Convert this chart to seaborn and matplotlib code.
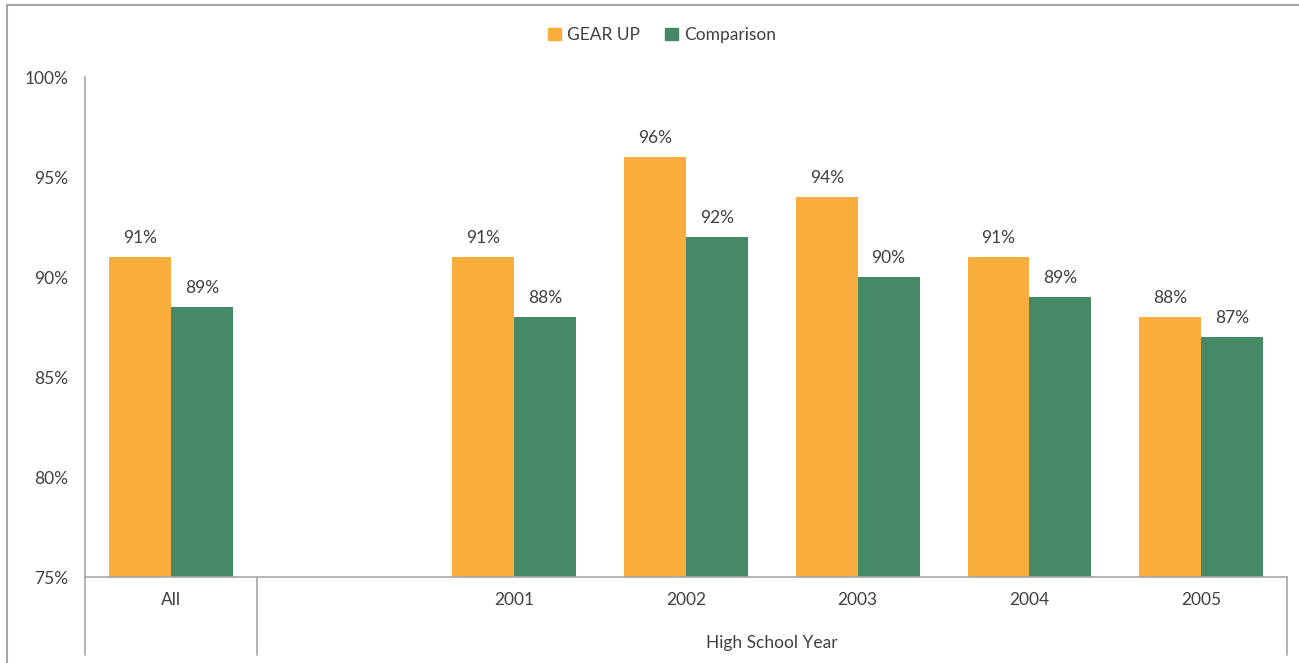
import matplotlib.pyplot as plt
import matplotlib.lines as mlines
import matplotlib.patches as mpatches
import numpy as np
import pandas as pd
import seaborn as sns

# chart data
categories = ["All", "", "2001", "2002", "2003", "2004", "2005"]
groups = ["All", "2001", "2002", "2003", "2004", "2005"]
gear_up = [91, 91, 96, 94, 91, 88]
comparison = [88.5, 88, 92, 90, 89, 87]
series = ["GEAR UP", "Comparison"]
colors = ["#F9AD3D", "#468966"]
y_ticks = [75, 80, 85, 90, 95, 100]

df = pd.DataFrame({
    "Year": groups * 2,
    "Series": [series[0]] * len(groups) + [series[1]] * len(groups),
    "Value": gear_up + comparison,
})

sns.set_style("white")
plt.rcParams["font.family"] = ["Lato", "DejaVu Sans"]
txt = "#404040"
line_col = "#A6A6A6"
fs = 12.5

W, H = 1299, 663
fig = plt.figure(figsize=(W / 100, H / 100), dpi=100)
ax = fig.add_axes([85 / W, (H - 577) / H, (1287 - 85) / W, 500 / H])

sns.barplot(data=df, x="Year", y="Value", hue="Series", order=categories,
            hue_order=series, palette=colors, saturation=1, width=0.72,
            linewidth=0, ax=ax, legend=False)

for c in ax.containers:
    labels = [f"{int(np.floor(v + 0.5))}%" for v in c.datavalues]
    ax.bar_label(c, labels=labels, padding=8, fontsize=fs, color=txt)

ax.set_xlim(-0.5, 6.5)
ax.set_ylim(75, 100)
ax.set_yticks(y_ticks)
ax.set_yticklabels([f"{t}%" for t in y_ticks], fontsize=fs, color=txt)
ax.set_xticks(range(len(categories)))
ax.set_xticklabels(categories, fontsize=fs, color=txt)
ax.tick_params(axis="both", length=0, pad=12)
ax.tick_params(axis="x", pad=11)
ax.set_xlabel("")
ax.set_ylabel("")

for s in ["top", "right"]:
    ax.spines[s].set_visible(False)
for s in ["left", "bottom"]:
    ax.spines[s].set_color(line_col)
    ax.spines[s].set_linewidth(1.2)

# multi-level category axis lines
bottom_y = (577 - 655) / 500
trans = ax.get_xaxis_transform()
for xv in [-0.5, 0.5, 6.5]:
    ax.plot([xv, xv], [0, bottom_y], transform=trans, color=line_col,
            lw=1.2, clip_on=False)
ax.text(3.5, (577 - 643) / 500, "High School Year", transform=trans,
        ha="center", va="center", fontsize=fs, color=txt)

# legend
handles = [mpatches.Patch(color=colors[i], label=series[i]) for i in range(2)]
fig.legend(handles=handles, loc="center", bbox_to_anchor=(662 / W, (H - 35) / H),
           ncol=2, frameon=False, fontsize=fs, handlelength=0.75,
           handleheight=0.75, handletextpad=0.3, columnspacing=1.5,
           labelcolor=txt)

# outer chart frame
fig.add_artist(mlines.Line2D([7 / W, 1], [(H - 5) / H, (H - 5) / H],
                             transform=fig.transFigure, color=line_col, lw=1.5))
fig.add_artist(mlines.Line2D([7 / W, 7 / W], [0, (H - 5) / H],
                             transform=fig.transFigure, color=line_col, lw=1.5))

fig.savefig("out.png", dpi=100)
